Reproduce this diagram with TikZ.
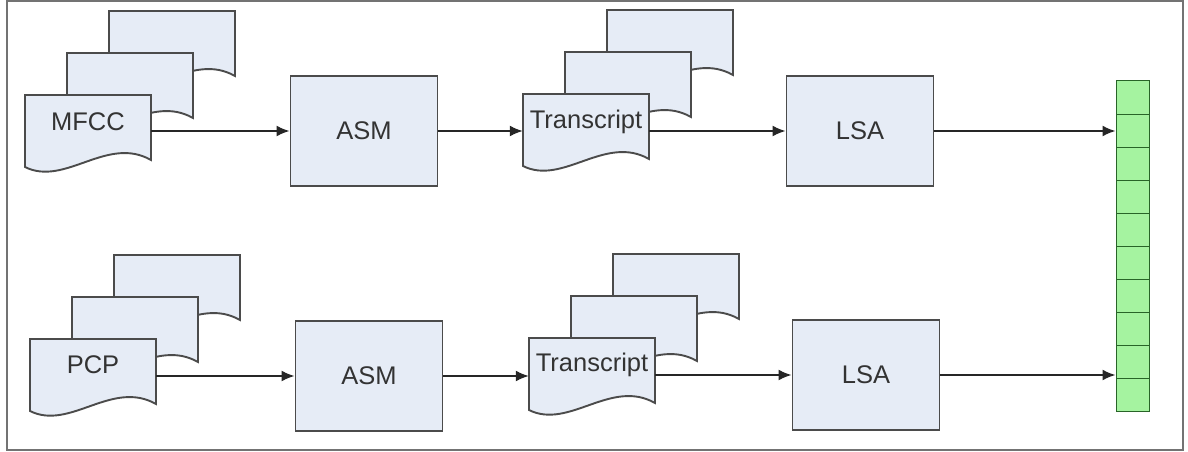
\documentclass[tikz,border=0pt]{standalone}
\usepackage{fontspec}
\setmainfont{Liberation Sans}
\usepackage{tikz}
\usetikzlibrary{arrows.meta}
\usepackage{xcolor}

\definecolor{sheetfill}{RGB}{230,236,246}
\definecolor{edgegray}{RGB}{75,75,75}
\definecolor{cellgreen}{RGB}{165,243,160}
\definecolor{celledge}{RGB}{40,100,40}

% one page of a document stack, top left corner at #1
\newcommand{\sheet}[1]{%
  \begin{scope}[shift={#1}]
    \draw[sheetline] (0,0) -- (126,0) -- (126,65)
      .. controls (82,40) and (40,92) .. (0,72) -- cycle;
  \end{scope}}

% three pages, front one at #1,#2
\newcommand{\docstack}[2]{%
  \sheet{(#1+84,#2-84)}
  \sheet{(#1+42,#2-42)}
  \sheet{(#1,#2)}}

\begin{document}
\begin{tikzpicture}[x=1pt, y=-1pt,
  sheetline/.style={draw=edgegray, fill=sheetfill, line width=1.9pt, line join=miter},
  doc/.style={minimum width=126pt, inner sep=0pt, font=\fontsize{25.5}{30}\selectfont, text=black!80},
  proc/.style={draw=edgegray, fill=sheetfill, line width=1.9pt, minimum width=147pt,
    minimum height=110pt, font=\fontsize{25.5}{30}\selectfont, text=black!80},
  cell/.style={draw=celledge, fill=cellgreen, line width=1pt, minimum width=33pt,
    minimum height=33.1pt, inner sep=0pt},
  flow/.style={draw=black!85, line width=1.7pt, -{Latex[length=13pt,width=11pt]}}]

  \useasboundingbox (0,0) rectangle (1188,452);
  \draw[black!55, line width=1.2pt] (7,1) rectangle (1183,450);

  % upper chain
  \docstack{25}{95}
  \node[doc] (mfcc) at (88,122) {MFCC};
  \node[proc] (asm1) at (364,131) {ASM};
  \docstack{523}{94}
  \node[doc] (tr1) at (586,122) {Transcript};
  \node[proc] (lsa1) at (860,131) {LSA};

  % lower chain
  \docstack{30}{339}
  \node[doc] (pcp) at (93,365) {PCP};
  \node[proc] (asm2) at (369,376) {ASM};
  \docstack{529}{338}
  \node[doc] (tr2) at (592,365) {Transcript};
  \node[proc] (lsa2) at (866,375) {LSA};

  % output vector
  \foreach \i in {0,...,9}
    \node[cell] (c\i) at (1132.5, 97.5+33.1*\i) {};

  \draw[flow] (mfcc.east |- asm1.west) -- (asm1.west);
  \draw[flow] (asm1.east) -- (asm1.east -| tr1.west);
  \draw[flow] (tr1.east |- lsa1.west) -- (lsa1.west);
  \draw[flow] (lsa1.east) -- (lsa1.east -| c1.west);

  \draw[flow] (pcp.east |- asm2.west) -- (asm2.west);
  \draw[flow] (asm2.east) -- (asm2.east -| tr2.west);
  \draw[flow] (tr2.east |- lsa2.west) -- (lsa2.west);
  \draw[flow] (lsa2.east) -- (lsa2.east -| c8.west);
\end{tikzpicture}
\end{document}
